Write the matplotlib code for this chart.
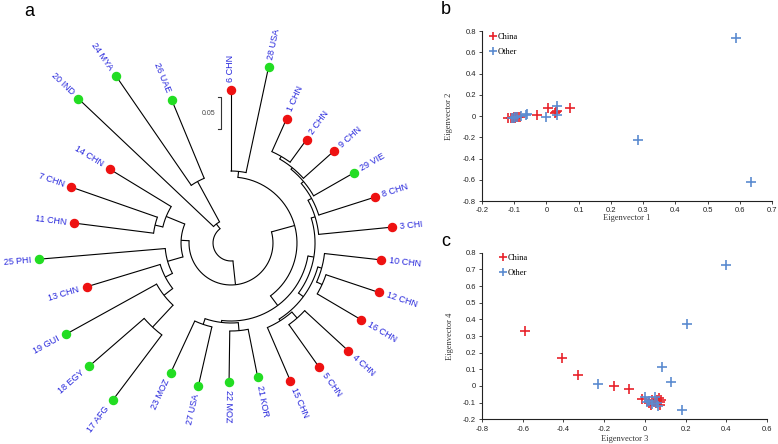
import numpy as np
import matplotlib
matplotlib.use("Agg")
import matplotlib.pyplot as plt

# ---------------- data ----------------
# Panel a: circular phylogram (Newick, branch lengths in tree units)
tree_newick = (
    "((((6_CHN:0.1266,28_USA:0.1688):0.0094,"
    "(((((((1_CHN:0.0563,2_CHN:0.0438):0.0047,9_CHN:0.0641):0.0031,29_VIE:0.0719):0.0047,"
    "8_CHN:0.0922):0.0063,3_CHI:0.1156):0.0063,"
    "((10_CHN:0.0891,(12_CHN:0.0875,16_CHN:0.0797):0.0094):0.0063,"
    "((4_CHN:0.0922,5_CHN:0.0813):0.0125,15_CHN:0.0906):0.0031):0.0094):0.0094,"
    "((21_KOR:0.0766,22_MOZ:0.0797):0.0125,(27_USA:0.0953,23_MOZ:0.0891):0.0094):0.0031):0.0188):0.0375,"
    "(((((17_AFG:0.1281,18_EGY:0.1141):0.0469,19_GUI:0.1625):0.0172,13_CHN:0.1203):0.0125,25_PHI:0.1984):0.025,"
    "((11_CHN:0.125,7_CHN:0.1422):0.0125,14_CHN:0.1125):0.0313):0.0125):0.0375,"
    "(20_IND:0.2906,(24_MYA:0.2078,26_UAE:0.1328):0.0719):0.0094):0.0281;"
)
china_tips = ["1 CHN", "2 CHN", "3 CHI", "4 CHN", "5 CHN", "6 CHN", "7 CHN", "8 CHN",
              "9 CHN", "10 CHN", "11 CHN", "12 CHN", "13 CHN", "14 CHN", "15 CHN", "16 CHN"]
scale_bar_value = 0.05

# Panel b: Eigenvector 1 vs Eigenvector 2
b_china_x = [-0.120, -0.110, -0.102, -0.100, -0.095, -0.088, -0.082, -0.028,
             0.005, 0.030, 0.034, 0.072, -0.105, 0.028, -0.092, -0.098]
b_china_y = [-0.020, -0.015, -0.022, -0.010, -0.012, -0.012, -0.006, 0.010,
             0.078, 0.035, 0.045, 0.072, -0.018, 0.030, -0.008, -0.016]
b_other_x = [-0.107, -0.098, -0.090, -0.078, -0.065, -0.060, -0.002, 0.034,
             0.032, 0.285, 0.587, 0.634, -0.100]
b_other_y = [-0.015, -0.008, -0.005, -0.002, 0.010, 0.018, -0.008, 0.095,
             0.012, -0.230, 0.731, -0.625, -0.020]
b_xticks = [-0.2, -0.1, 0, 0.1, 0.2, 0.3, 0.4, 0.5, 0.6, 0.7]
b_xticklabels = ["-0.2", "-0.1", "0", "0.1", "0.2", "0.3", "0.4", "0.5", "0.6", "0.7"]
b_yticks = [-0.8, -0.6, -0.4, -0.2, 0, 0.2, 0.4, 0.6, 0.8]
b_yticklabels = ["-0.8", "-0.6", "-0.4", "-0.2", "0", "0.2", "0.4", "0.6", "0.8"]

# Panel c: Eigenvector 3 vs Eigenvector 4
c_china_x = [-0.591, -0.406, -0.326, -0.154, -0.077, -0.015, 0.031, 0.059,
             0.072, 0.080, 0.046, 0.068, 0.034, 0.072, 0.018, 0.055]
c_china_y = [0.328, 0.166, 0.066, 0.002, -0.020, -0.078, -0.114, -0.084,
             -0.094, -0.084, -0.094, -0.070, -0.084, -0.114, -0.100, -0.105]
c_other_x = [0.397, 0.206, 0.083, 0.127, -0.231, 0.184, 0.001, 0.050,
             0.011, 0.034, 0.065, 0.059, 0.020]
c_other_y = [0.726, 0.372, 0.116, 0.026, 0.010, -0.144, -0.066, -0.066,
             -0.096, -0.108, -0.120, -0.100, -0.090]
c_xticks = [-0.8, -0.6, -0.4, -0.2, 0, 0.2, 0.4, 0.6]
c_xticklabels = ["-0.8", "-0.6", "-0.4", "-0.2", "0", "0.2", "0.4", "0.6"]
c_yticks = [-0.2, -0.1, 0, 0.1, 0.2, 0.3, 0.4, 0.5, 0.6, 0.7, 0.8]
c_yticklabels = ["-0.2", "-0.1", "0", "0.1", "0.2", "0.3", "0.4", "0.5", "0.6", "0.7", "0.8"]

# ---------------- style ----------------
RED_DOT = "#ee1111"
GREEN_DOT = "#22dd22"
LABEL_BLUE = "#2626dc"
PCA_RED = "#e8232b"
PCA_BLUE = "#5b8bd0"
SANS = ["Liberation Sans", "DejaVu Sans"]
SERIF = ["Liberation Serif", "DejaVu Serif"]

W, H = 778, 444
fig = plt.figure(figsize=(W / 100, H / 100), dpi=100)


# ---------------- tree helpers ----------------
def parse_newick(s):
    s = s.strip().rstrip(";")
    pos = 0

    def node():
        nonlocal pos
        n = {"children": [], "name": "", "length": 0.0}
        if s[pos] == "(":
            pos += 1
            while True:
                n["children"].append(node())
                if s[pos] == ",":
                    pos += 1
                    continue
                pos += 1  # ')'
                break
        start = pos
        while pos < len(s) and s[pos] not in ":,()":
            pos += 1
        n["name"] = s[start:pos].replace("_", " ")
        if pos < len(s) and s[pos] == ":":
            pos += 1
            start = pos
            while pos < len(s) and s[pos] not in ",()":
                pos += 1
            n["length"] = float(s[start:pos])
        return n

    return node()


root = parse_newick(tree_newick)
leaves = []
n_leaves_total = 29
first_angle = 90.0
span = 337.5
step = span / (n_leaves_total - 1)


def layout(n, depth):
    n["r"] = depth + n["length"]
    if not n["children"]:
        n["theta"] = first_angle - step * len(leaves)
        leaves.append(n)
    else:
        for c in n["children"]:
            layout(c, n["r"])
        n["theta"] = 0.5 * (n["children"][0]["theta"] + n["children"][-1]["theta"])


layout(root, 0.0)

# panel a axes: 1 tree unit = 640 px, centre at pixel (231, 243)
PX = 640.0
cx, cy = 231, 243
axa = fig.add_axes([0, 0, 460 / W, 1])
axa.set_xlim(-cx / PX, (460 - cx) / PX)
axa.set_ylim(-(H - cy) / PX, cy / PX)
axa.axis("off")


def pol(r, th):
    t = np.radians(th)
    return r * np.cos(t), r * np.sin(t)


def draw(n):
    for c in n["children"]:
        x0, y0 = pol(n["r"], c["theta"])
        x1, y1 = pol(c["r"], c["theta"])
        axa.plot([x0, x1], [y0, y1], color="black", lw=0.8, solid_capstyle="butt", zorder=2)
        draw(c)
    if n["children"]:
        t = np.linspace(n["children"][0]["theta"], n["children"][-1]["theta"], 200)
        xs, ys = pol(n["r"], t)
        axa.plot(xs, ys, color="black", lw=0.8, zorder=2)


draw(root)

for lf in leaves:
    x, y = pol(lf["r"], lf["theta"])
    col = RED_DOT if lf["name"] in china_tips else GREEN_DOT
    axa.plot([x], [y], "o", ms=5.8, color=col, mec=col, zorder=3)
    th = (lf["theta"] + 180) % 360 - 180
    lx, ly = pol(lf["r"] + 8 / PX, lf["theta"])
    if abs(th) > 100:
        rot, ha = th + 180, "right"
    else:
        rot, ha = th, "left"
    axa.text(lx, ly, lf["name"], rotation=rot, rotation_mode="anchor", ha=ha, va="center",
             color=LABEL_BLUE, fontsize=6.5, family=SANS)

# scale bar
sbx = (221 - cx) / PX
sby0 = (cy - 129) / PX
axa.plot([sbx - 3 / PX, sbx, sbx, sbx - 3 / PX],
         [sby0, sby0, sby0 + scale_bar_value, sby0 + scale_bar_value],
         color="#333333", lw=0.8)
axa.text(sbx - 6 / PX, sby0 + scale_bar_value / 2, "0.05", ha="right", va="center",
         fontsize=5, color="#444444", family=SANS)

# panel letters
fig.text(29 / W, 1 - 12 / H, "a", fontsize=13, family=SANS, ha="center", va="center")
fig.text(446 / W, 1 - 10 / H, "b", fontsize=13, family=SANS, ha="center", va="center")
fig.text(446 / W, 1 - 241 / H, "c", fontsize=13, family=SANS, ha="center", va="center")


# ---------------- scatter panels ----------------
def scatter_panel(rect, cxs, cys, oxs, oys, xt, xtl, yt, ytl, xlabel, ylabel,
                  xlab_y, ylab_x, leg_anchor):
    ax = fig.add_axes(rect)
    ax.plot(cxs, cys, "+", ms=6.5, mew=1.2, color=PCA_RED, label="China", linestyle="none")
    ax.plot(oxs, oys, "+", ms=6.5, mew=1.2, color=PCA_BLUE, label="Other", linestyle="none")
    ax.set_xlim(xt[0], xt[-1])
    ax.set_ylim(yt[0], yt[-1])
    ax.set_xticks(xt)
    ax.set_xticklabels(xtl)
    ax.set_yticks(yt)
    ax.set_yticklabels(ytl)
    for sp in ("top", "right"):
        ax.spines[sp].set_visible(False)
    for sp in ("left", "bottom"):
        ax.spines[sp].set_linewidth(0.8)
        ax.spines[sp].set_color("#222222")
    ax.tick_params(direction="out", length=2.5, width=0.6, labelsize=5.5,
                   colors="#222222", pad=2)
    for lab in ax.get_xticklabels() + ax.get_yticklabels():
        lab.set_family(SANS)
    ax.set_xlabel(xlabel, fontsize=6, family=SERIF, color="#333333")
    ax.set_ylabel(ylabel, fontsize=6, family=SERIF, color="#333333")
    ax.xaxis.set_label_coords(0.5, xlab_y)
    ax.yaxis.set_label_coords(ylab_x, 0.5)
    ax.legend(loc="upper left", bbox_to_anchor=leg_anchor, frameon=False,
              prop={"family": SERIF, "size": 6}, handlelength=0.6,
              handletextpad=0.2, labelspacing=0.9, borderpad=0, borderaxespad=0,
              markerscale=0.8)
    return ax


scatter_panel([482 / W, (H - 201) / H, 290 / W, 170 / H],
              b_china_x, b_china_y, b_other_x, b_other_y,
              b_xticks, b_xticklabels, b_yticks, b_yticklabels,
              "Eigenvector 1", "Eigenvector 2", -0.075, -0.1, (0.03, 0.99))

scatter_panel([482 / W, (H - 419.3) / H, 285 / W, 166.6 / H],
              c_china_x, c_china_y, c_other_x, c_other_y,
              c_xticks, c_xticklabels, c_yticks, c_yticklabels,
              "Eigenvector 3", "Eigenvector 4", -0.095, -0.1, (0.065, 0.995))

fig.savefig("out.png", dpi=100)
